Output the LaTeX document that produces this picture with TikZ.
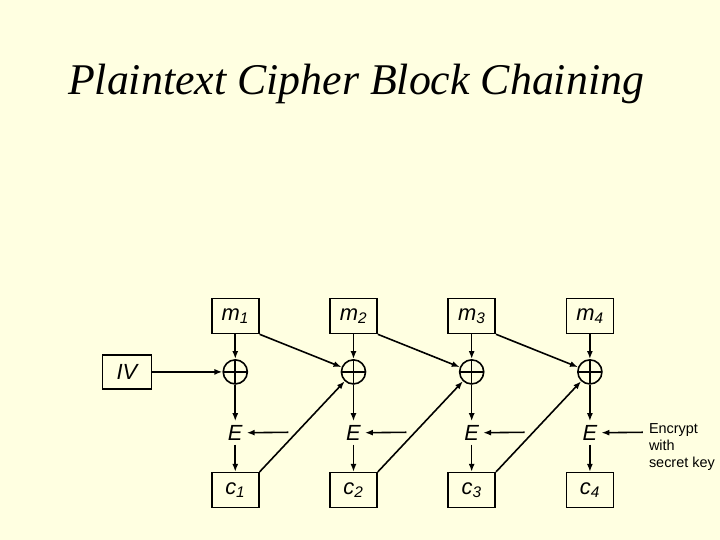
\documentclass[tikz,border=0pt]{standalone}
\usepackage{fontspec}
\setmainfont{Liberation Serif}
\setsansfont{Liberation Sans}
\usetikzlibrary{arrows.meta}
\definecolor{slidebg}{RGB}{255,255,225}

\begin{document}
\begin{tikzpicture}[
        line width=1.6pt,
        >={Latex[length=8pt,width=6pt]},
        blk/.style={draw, minimum width=1.66cm, minimum height=1.23cm, font=\sffamily\itshape\fontsize{22}{26}\selectfont},
        xor/.style={circle, draw, minimum size=0.85cm, inner sep=0pt,
            path picture={\draw (path picture bounding box.north) -- (path picture bounding box.south)
                (path picture bounding box.west) -- (path picture bounding box.east);}},
        enc/.style={font=\sffamily\itshape\fontsize{22}{26}\selectfont}
    ]
        \useasboundingbox[fill=slidebg] (0,0) rectangle (25.4,19.05);

        \node (title) at (12.56,16.08) {\itshape\fontsize{44}{52}\selectfont Plaintext Cipher Block Chaining};

        \node[blk] (m1) at (8.30,7.90) {m\textsubscript{1}};
        \node[blk] (m2) at (12.47,7.90) {m\textsubscript{2}};
        \node[blk] (m3) at (16.64,7.90) {m\textsubscript{3}};
        \node[blk] (m4) at (20.81,7.90) {m\textsubscript{4}};

        \node[blk, minimum width=1.73cm, minimum height=1.2cm] (IV) at (4.48,5.93) {IV};
        \node[xor] (x1) at (8.30,5.93) {};
        \node[xor] (x2) at (12.47,5.93) {};
        \node[xor] (x3) at (16.64,5.93) {};
        \node[xor] (x4) at (20.81,5.93) {};

        \node[enc] (E1) at (8.30,3.78) {E};
        \node[enc] (E2) at (12.47,3.78) {E};
        \node[enc] (E3) at (16.64,3.78) {E};
        \node[enc] (E4) at (20.81,3.78) {E};

        \coordinate (k1) at (10.17,3.80);
        \coordinate (k2) at (14.34,3.80);
        \coordinate (k3) at (18.51,3.80);
        \coordinate (k4) at (22.68,3.80);
        \node[anchor=west, align=left, font=\sffamily\fontsize{14.5}{17.5}\selectfont] (key) at (22.75,3.28) {Encrypt\\with\\secret key};

        \node[blk] (c1) at (8.30,1.76) {c\textsubscript{1}};
        \node[blk] (c2) at (12.47,1.76) {c\textsubscript{2}};
        \node[blk] (c3) at (16.64,1.76) {c\textsubscript{3}};
        \node[blk] (c4) at (20.81,1.76) {c\textsubscript{4}};

        \draw[->] (IV) -- (x1);
        \draw[->] (m1) -- (x1);
        \draw[->] (m2) -- (x2);
        \draw[->] (m3) -- (x3);
        \draw[->] (m4) -- (x4);
        \draw[->] (x1) -- (E1);
        \draw[->] (x2) -- (E2);
        \draw[->] (x3) -- (E3);
        \draw[->] (x4) -- (E4);
        \draw[->] (E1) -- (c1);
        \draw[->] (E2) -- (c2);
        \draw[->] (E3) -- (c3);
        \draw[->] (E4) -- (c4);
        \draw[->] (k1) -- (E1);
        \draw[->] (k2) -- (E2);
        \draw[->] (k3) -- (E3);
        \draw[->] (k4) -- (E4);
        \draw[->] (m1.south east) -- (x2);
        \draw[->] (m2.south east) -- (x3);
        \draw[->] (m3.south east) -- (x4);
        \draw[->] (c1.north east) -- (x2);
        \draw[->] (c2.north east) -- (x3);
        \draw[->] (c3.north east) -- (x4);
    \end{tikzpicture}
\end{document}
